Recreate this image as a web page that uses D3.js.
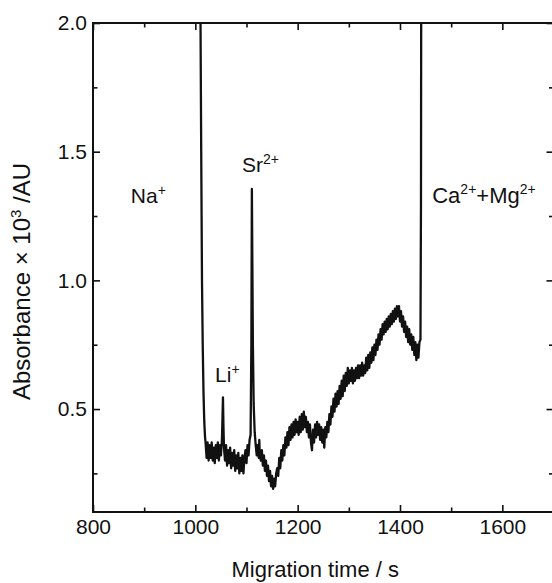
<!DOCTYPE html>
<html lang="en">
<head>
  <meta charset="UTF-8">
  <title>Absorbance vs Migration time</title>
  <style>
    body {
      margin: 0;
      background: #fff;
      font-family: "Liberation Sans", Arial, sans-serif;
    }
    svg text {
      fill: #111;
    }
  </style>
  <script src="https://d3js.org/d3.v7.min.js"></script>
</head>
<body>
  <div id="chart"></div>

  <script>
    // migration time (s) and absorbance (x10^3 AU)
    const migrationTime = [
      1008, 1010, 1011.5, 1013, 1014.5, 1016, 1017.5, 1019,
      1020, 1022, 1024, 1026, 1028, 1030, 1032, 1034, 1036, 1038, 1040, 1042, 1044, 1046, 1048, 1050,
      1052, 1053, 1054, 1055, 1056, 1058, 1060, 1062, 1064, 1066, 1068, 1070, 1072, 1074, 1076, 1078,
      1080, 1082, 1084, 1086, 1088, 1090, 1092, 1094, 1096, 1098, 1100, 1102, 1104, 1106, 1108,
      1109.5, 1110.5, 1111.5, 1112.5, 1114, 1116, 1118, 1120, 1122, 1124, 1125, 1126, 1128, 1130,
      1132, 1134, 1136, 1138, 1140, 1142, 1144, 1146, 1148, 1150, 1152, 1154, 1156, 1158, 1160,
      1162, 1164, 1166, 1168, 1170, 1172, 1174, 1176, 1178, 1180, 1182, 1184, 1186, 1188, 1190,
      1192, 1194, 1196, 1198, 1200, 1202, 1204, 1206, 1208, 1210, 1212, 1214, 1216, 1218, 1220,
      1222, 1224, 1226, 1228, 1230, 1232, 1234, 1236, 1238, 1240, 1242, 1244, 1246, 1248, 1250,
      1252, 1254, 1256, 1258, 1260, 1262, 1264, 1266, 1268, 1270, 1272, 1274, 1276, 1278, 1280,
      1282, 1284, 1286, 1288, 1290, 1292, 1294, 1296, 1298, 1300, 1302, 1304, 1306, 1308, 1310,
      1312, 1314, 1316, 1318, 1320, 1322, 1324, 1326, 1328, 1330, 1332, 1334, 1336, 1338, 1340,
      1342, 1344, 1346, 1348, 1350, 1352, 1354, 1356, 1358, 1360, 1362, 1364, 1366, 1368, 1370,
      1372, 1374, 1376, 1378, 1380, 1382, 1384, 1386, 1388, 1390, 1392, 1394, 1396, 1398, 1400,
      1402, 1404, 1406, 1408, 1410, 1412, 1414, 1416, 1418, 1420, 1422, 1424, 1426, 1428, 1430,
      1432, 1434, 1436, 1438, 1440, 1441, 1441.5
    ];
    const absorbance = [
      2.2, 2.05, 1.5, 1.0, 0.74, 0.56, 0.45, 0.39,
      0.37, 0.31, 0.37, 0.30, 0.36, 0.31, 0.37, 0.30, 0.35, 0.29, 0.36, 0.31, 0.37, 0.30, 0.36, 0.32,
      0.38, 0.46, 0.545, 0.43, 0.35, 0.30, 0.36, 0.28, 0.34, 0.29, 0.35, 0.27, 0.33, 0.28, 0.34, 0.26,
      0.32, 0.27, 0.33, 0.25, 0.31, 0.26, 0.32, 0.25, 0.31, 0.34, 0.29, 0.36, 0.32, 0.38, 0.40,
      0.75, 1.355, 1.05, 0.75, 0.52, 0.41, 0.36, 0.32, 0.36, 0.31, 0.38, 0.32, 0.30, 0.34,
      0.28, 0.32, 0.26, 0.30, 0.24, 0.28, 0.22, 0.26, 0.20, 0.24, 0.19, 0.23, 0.20, 0.25, 0.27,
      0.24, 0.31, 0.27, 0.34, 0.30, 0.36, 0.32, 0.39, 0.35, 0.41, 0.36, 0.43, 0.38, 0.44, 0.39,
      0.45, 0.40, 0.46, 0.41, 0.45, 0.40, 0.47, 0.41, 0.48, 0.42, 0.49, 0.43, 0.47, 0.41, 0.45,
      0.39, 0.44, 0.37, 0.34, 0.42, 0.37, 0.44, 0.39, 0.45, 0.40, 0.44, 0.38, 0.43, 0.37, 0.42,
      0.35, 0.43, 0.39, 0.45, 0.41, 0.48, 0.44, 0.51, 0.47, 0.54, 0.49, 0.56, 0.51, 0.57, 0.52,
      0.59, 0.54, 0.61, 0.55, 0.63, 0.57, 0.64, 0.59, 0.66, 0.60, 0.65, 0.61, 0.66, 0.60, 0.65,
      0.61, 0.66, 0.62, 0.67, 0.62, 0.67, 0.63, 0.68, 0.63, 0.67, 0.64, 0.70, 0.65, 0.71, 0.66,
      0.72, 0.68, 0.74, 0.69, 0.75, 0.71, 0.77, 0.73, 0.79, 0.75, 0.81, 0.77, 0.83, 0.79, 0.84,
      0.80, 0.85, 0.81, 0.86, 0.82, 0.87, 0.83, 0.88, 0.84, 0.89, 0.85, 0.90, 0.86, 0.90, 0.84,
      0.88, 0.82, 0.86, 0.80, 0.84, 0.78, 0.82, 0.76, 0.81, 0.75, 0.79, 0.73, 0.78, 0.71, 0.76,
      0.69, 0.75, 0.70, 0.76, 0.77, 1.3, 2.2
    ];

    const xMajorTicks = [800, 1000, 1200, 1400, 1600];
    const xMinorTicks = [900, 1100, 1300, 1500, 1700];
    const yMajorTicks = [0.5, 1.0, 1.5, 2.0];
    const yMinorTicks = [0.25, 0.75, 1.25, 1.75];

    // peak labels: [main text, superscript, time, absorbance]
    const peakLabels = [
      ["Na", "+", 874, 1.3],
      ["Li", "+", 1038.5, 0.606],
      ["Sr", "2+", 1091, 1.42]
    ];

    const W = 552, H = 583;
    const margin = {top: 23, right: -1.5, bottom: 71, left: 93};
    const width = W - margin.left - margin.right;
    const height = H - margin.top - margin.bottom;

    const svgContainer = d3.select("#chart")
      .append("svg")
      .attr("width", W)
      .attr("height", H);

    const svg = svgContainer.append("g")
      .attr("transform", `translate(${margin.left}, ${margin.top})`);

    const xScale = d3.scaleLinear().domain([800, 1700]).range([0, width]);
    const yScale = d3.scaleLinear().domain([0.1, 2.0]).range([height, 0]);

    svg.append("clipPath")
      .attr("id", "plotClip")
      .append("rect")
      .attr("width", width)
      .attr("height", height);

    // trace
    const points = migrationTime.map((t, i) => [t, absorbance[i]]);
    const line = d3.line()
      .x(d => xScale(d[0]))
      .y(d => yScale(d[1]));

    svg.append("path")
      .datum(points)
      .attr("clip-path", "url(#plotClip)")
      .attr("fill", "none")
      .attr("stroke", "#111")
      .attr("stroke-width", 2.3)
      .attr("stroke-linejoin", "round")
      .attr("d", line);

    // inward ticks on all four sides
    function addAxis(axis, transform, size, labels) {
      const g = svg.append("g")
        .attr("transform", transform)
        .call(axis.tickSize(-size));
      g.select(".domain").remove();
      g.selectAll(".tick line").attr("stroke", "#111").attr("stroke-width", 1.6);
      g.selectAll("text")
        .style("font-family", '"Liberation Sans", Arial, sans-serif')
        .style("font-size", "21px")
        .attr("fill", "#111");
      if (!labels) g.selectAll("text").remove();
      return g;
    }

    addAxis(d3.axisBottom(xScale).tickValues(xMajorTicks).tickPadding(7).tickFormat(d3.format("d")),
      `translate(0, ${height})`, 7, true);
    addAxis(d3.axisBottom(xScale).tickValues(xMinorTicks), `translate(0, ${height})`, 4.5, false);
    addAxis(d3.axisTop(xScale).tickValues(xMajorTicks), "translate(0, 0)", 7, false);
    addAxis(d3.axisTop(xScale).tickValues(xMinorTicks), "translate(0, 0)", 4.5, false);

    addAxis(d3.axisLeft(yScale).tickValues(yMajorTicks).tickPadding(6).tickFormat(d3.format(".1f")),
      "translate(0, 0)", 7, true);
    addAxis(d3.axisLeft(yScale).tickValues(yMinorTicks), "translate(0, 0)", 4.5, false);
    addAxis(d3.axisRight(yScale).tickValues(yMajorTicks), `translate(${width}, 0)`, 7, false);
    addAxis(d3.axisRight(yScale).tickValues(yMinorTicks), `translate(${width}, 0)`, 4.5, false);

    svg.append("rect")
      .attr("width", width)
      .attr("height", height)
      .attr("fill", "none")
      .attr("stroke", "#111")
      .attr("stroke-width", 2);

    // peak labels
    peakLabels.forEach(p => {
      const t = svg.append("text")
        .attr("x", xScale(p[2]))
        .attr("y", yScale(p[3]))
        .style("font-size", "21px");
      t.append("tspan").text(p[0]);
      t.append("tspan").attr("dy", -8).style("font-size", "14px").text(p[1]);
    });

    const caMg = svg.append("text")
      .attr("x", xScale(1463))
      .attr("y", yScale(1.3))
      .style("font-size", "22px");
    caMg.append("tspan").text("Ca");
    caMg.append("tspan").attr("dy", -9).style("font-size", "14px").text("2+");
    caMg.append("tspan").attr("dy", 9).text("+Mg");
    caMg.append("tspan").attr("dy", -9).style("font-size", "14px").text("2+");

    // axis titles
    svg.append("text")
      .attr("x", width / 2 - 8)
      .attr("y", height + 65)
      .attr("text-anchor", "middle")
      .style("font-size", "22px")
      .text("Migration time / s");

    const yTitle = svg.append("text")
      .attr("transform", `translate(${-63}, ${height / 2 + 14}) rotate(-90)`)
      .attr("text-anchor", "middle")
      .style("font-size", "24px");
    yTitle.append("tspan").text("Absorbance \u00d7 10");
    yTitle.append("tspan").attr("dy", -9).style("font-size", "15px").text("3");
    yTitle.append("tspan").attr("dy", 9).text(" /AU");
  </script>
</body>
</html>
